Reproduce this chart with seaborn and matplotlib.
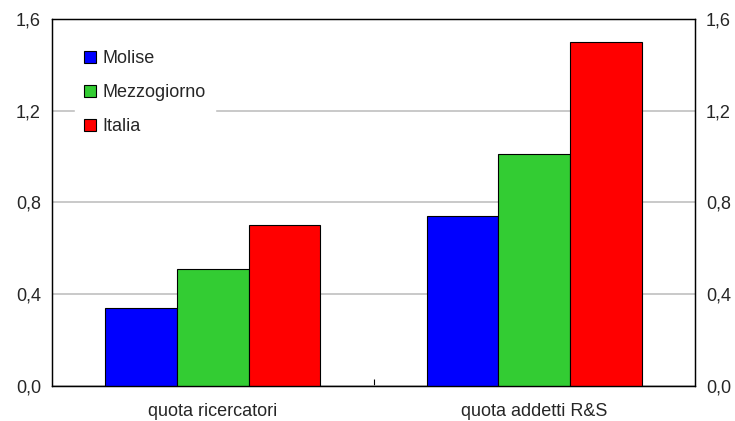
import pandas as pd
import seaborn as sns
import matplotlib.pyplot as plt
from matplotlib.ticker import FixedLocator

categories = ['quota ricercatori', 'quota addetti R&S']
molise = [0.34, 0.74]
mezzogiorno = [0.51, 1.01]
italia = [0.70, 1.50]
series = ['Molise', 'Mezzogiorno', 'Italia']
colors = ['#0000ff', '#33cc33', '#ff0000']
yticks = [0.0, 0.4, 0.8, 1.2, 1.6]
ytick_labels = ['0,0', '0,4', '0,8', '1,2', '1,6']

df = pd.DataFrame({
    'categoria': categories * 3,
    'valore': molise + mezzogiorno + italia,
    'serie': [s for s in series for _ in categories],
})

sns.set_style('white')
plt.rcParams['font.family'] = ['Liberation Sans', 'DejaVu Sans']
fs = 13

fig = plt.figure(figsize=(7.35, 4.21), dpi=100)
ax = fig.add_axes([52 / 735, 1 - 386 / 421, 643 / 735, 367 / 421])

sns.barplot(data=df, x='categoria', y='valore', hue='serie', palette=colors,
            saturation=1, width=0.67, edgecolor='black', linewidth=0.8,
            ax=ax, zorder=3)

ax.set_xlim(-0.5, 1.5)
ax.set_ylim(0, 1.6)
ax.set_yticks(yticks)
ax.set_yticklabels(ytick_labels, fontsize=fs)
ax.grid(axis='y', color='#c0c0c0', linewidth=1.2, zorder=0)
ax.set_axisbelow(True)
ax.set_xlabel('')
ax.set_ylabel('')
ax.tick_params(axis='x', length=0, labelsize=fs, pad=12)
ax.tick_params(axis='y', length=0, pad=8)
ax.xaxis.set_minor_locator(FixedLocator([0.5]))
ax.tick_params(axis='x', which='minor', bottom=True, direction='in',
               length=5, width=0.8, color='black')

ax2 = ax.twinx()
ax2.set_ylim(0, 1.6)
ax2.set_yticks(yticks)
ax2.set_yticklabels(ytick_labels, fontsize=fs)
ax2.tick_params(axis='y', length=0, pad=8)

for a in (ax, ax2):
    for sp in a.spines.values():
        sp.set_color('black')
        sp.set_linewidth(0.9)

leg = ax.legend(loc='upper left', bbox_to_anchor=(0.022, 0.965), frameon=True,
                fontsize=fs, handlelength=0.65, handleheight=0.65,
                handletextpad=0.35, labelspacing=0.95, borderpad=0.5)
leg.get_frame().set_edgecolor('white')
leg.get_frame().set_facecolor('white')
leg.get_frame().set_alpha(1)
leg.set_zorder(5)

fig.savefig('out.png', dpi=100)
